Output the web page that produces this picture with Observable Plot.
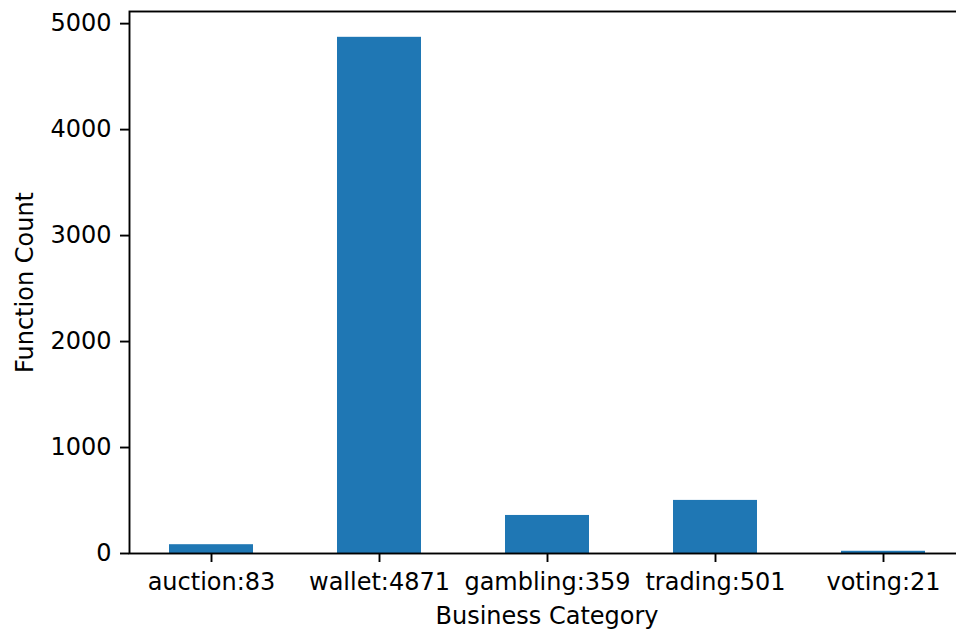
<!DOCTYPE html>
<html>
<head>
<meta charset="utf-8">
<script src="https://cdn.jsdelivr.net/npm/d3@7"></script>
<script src="https://cdn.jsdelivr.net/npm/@observablehq/plot@0.6"></script>
<style>
  html, body { margin: 0; padding: 0; background: #fff; overflow: hidden; }
  #chart { width: 956px; height: 629px; overflow: hidden; position: relative; }
  #chart svg { max-width: none !important; }
</style>
</head>
<body>
<div id="chart"></div>
<script>
const categories = ["auction", "wallet", "gambling", "trading", "voting"];
const counts = [83, 4871, 359, 501, 21];
const tickLabels = ["auction:83", "wallet:4871", "gambling:359", "trading:501", "voting:21"];
const yTicks = [0, 1000, 2000, 3000, 4000, 5000];

const data = categories.map((c, i) => ({category: c, count: counts[i]}));
const labelOf = new Map(categories.map((c, i) => [c, tickLabels[i]]));

const chart = Plot.plot({
  width: 966,
  height: 629,
  marginLeft: 129,
  marginRight: 2,
  marginTop: 11,
  marginBottom: 76,
  style: {fontFamily: "'DejaVu Sans', sans-serif", fontSize: "24px", color: "#000", background: "#fff", maxWidth: "none"},
  x: {type: "band", domain: categories, paddingInner: 0.5, paddingOuter: 0.225, axis: null},
  y: {domain: [0, d3.max(counts) * 1.05], axis: null},
  marks: [
    Plot.barY(data, {x: "category", y: "count", fill: "#1f77b4"}),
    Plot.frame({stroke: "#000", strokeWidth: 1.9}),
    Plot.axisX({
      tickSize: 9, tickPadding: 10, strokeWidth: 1.9, stroke: "#000",
      tickFormat: d => labelOf.get(d),
      fontSize: 24, fill: "#000",
      label: "Business Category", labelAnchor: "center", labelOffset: 70, labelArrow: "none"
    }),
    Plot.axisY({
      ticks: yTicks, tickSize: 9, tickPadding: 9, strokeWidth: 1.9, stroke: "#000",
      tickFormat: d => String(d),
      fontSize: 24, fill: "#000",
      label: "Function Count", labelAnchor: "center", labelOffset: 114, labelArrow: "none"
    })
  ]
});
document.getElementById("chart").appendChild(chart);
</script>
</body>
</html>
